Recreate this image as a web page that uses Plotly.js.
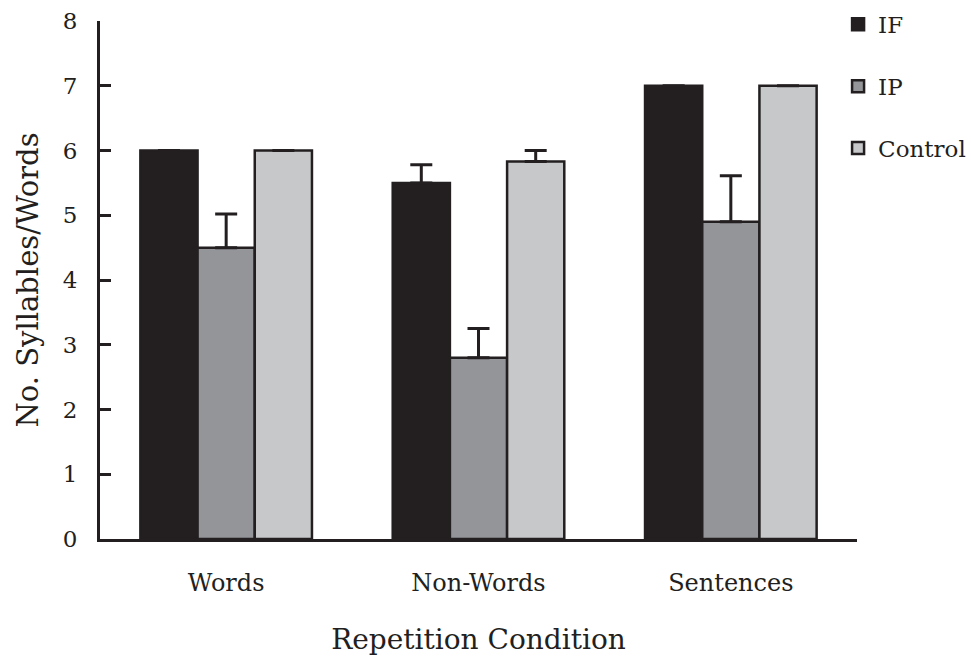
<!DOCTYPE html>
<html>
<head>
<meta charset="utf-8">
<script src="https://cdn.plot.ly/plotly-3.0.1.min.js"></script>
<style>html,body{margin:0;padding:0;background:#fff;}#chart{width:971px;height:657px;}</style>
</head>
<body>
<div id="chart"></div>
<script>
const categories = ["Words", "Non-Words", "Sentences"];
const seriesNames = ["IF", "IP", "Control"];
const ifValues = [6.0, 5.5, 7.0];
const ifErrors = [0, 0.28, 0];
const ipValues = [4.5, 2.8, 4.9];
const ipErrors = [0.52, 0.45, 0.71];
const controlValues = [6.0, 5.83, 7.0];
const controlErrors = [0, 0.17, 0];
const yTicks = [0, 1, 2, 3, 4, 5, 6, 7, 8];

const colors = ["#231f20", "#939598", "#c7c8ca"];
const values = [ifValues, ipValues, controlValues];
const errors = [ifErrors, ipErrors, controlErrors];
const edge = "#231f20";

const traces = seriesNames.map((name, i) => ({
  type: "bar",
  name: name,
  x: categories,
  y: values[i],
  legendgroup: name,
  marker: { color: colors[i], line: { color: edge, width: 2.5 } },
  error_y: {
    type: "data",
    symmetric: false,
    array: errors[i],
    arrayminus: errors[i].map(() => 0),
    color: edge,
    thickness: 3,
    width: 11
  },
  hoverinfo: "x+y+name"
}));

const font = "DejaVu Serif, serif";

const layout = {
  width: 971,
  height: 657,
  margin: { l: 100, r: 114, t: 21, b: 118, autoexpand: false },
  paper_bgcolor: "#ffffff",
  plot_bgcolor: "#ffffff",
  font: { family: font, color: "#231f20", size: 23 },
  barmode: "group",
  bargap: 0.32,
  bargroupgap: 0,
  showlegend: true,
  legend: {
    x: 0.975, xanchor: "left",
    y: 1.035, yanchor: "top",
    font: { family: font, size: 23, color: "#231f20" },
    traceorder: "grouped",
    tracegroupgap: 29,
    itemwidth: 30,
    bgcolor: "rgba(0,0,0,0)"
  },
  xaxis: {
    type: "category",
    range: [-0.5, 2.5],
    showline: true,
    linecolor: edge,
    linewidth: 3,
    ticks: "",
    showgrid: false,
    zeroline: false,
    tickfont: { family: font, size: 24, color: "#231f20" },
    ticklabelstandoff: 20,
    title: { text: "Repetition Condition", font: { family: font, size: 28, color: "#231f20" }, standoff: 34 }
  },
  yaxis: {
    range: [0, 8],
    tickvals: yTicks,
    ticktext: yTicks.map(String),
    showline: true,
    linecolor: edge,
    linewidth: 3,
    ticks: "inside",
    ticklen: 11,
    tickwidth: 2.5,
    tickcolor: edge,
    showgrid: false,
    zeroline: false,
    tickfont: { family: font, size: 23, color: "#231f20" },
    ticklabelstandoff: 15,
    title: { text: "No. Syllables/Words", font: { family: font, size: 29, color: "#231f20" }, standoff: 16 }
  }
};

Plotly.newPlot("chart", traces, layout, { displayModeBar: false });
</script>
</body>
</html>
